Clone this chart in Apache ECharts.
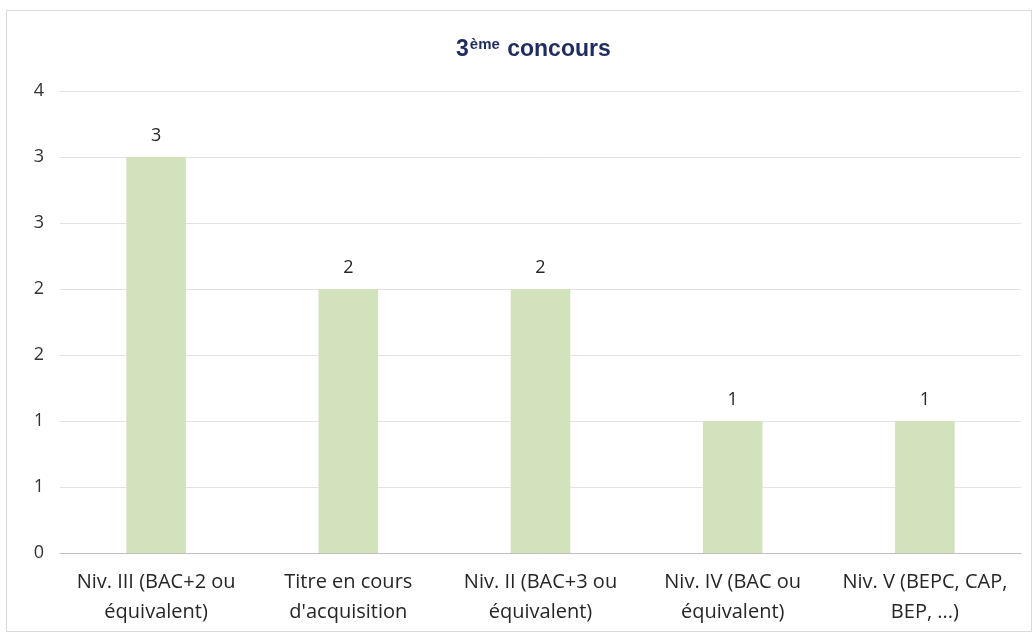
<!DOCTYPE html>
<html>
<head>
<meta charset="utf-8">
<script src="https://cdn.jsdelivr.net/npm/echarts@6/dist/echarts.min.js"></script>
<style>
html,body{margin:0;padding:0;background:#fff;}
#frame{position:absolute;left:6px;top:10px;width:1026px;height:622px;border:1px solid #d9d9d9;box-sizing:border-box;}
#c{position:absolute;left:0;top:0;width:1036px;height:637px;}
</style>
</head>
<body>
<div id="frame"></div>
<div id="c"></div>
<script>
const categories = [
  "Niv. III (BAC+2 ou\néquivalent)",
  "Titre en cours\nd'acquisition",
  "Niv. II (BAC+3 ou\néquivalent)",
  "Niv. IV (BAC ou\néquivalent)",
  "Niv. V (BEPC, CAP,\nBEP, ...)"
];
const values = [3, 2, 2, 1, 1];
const yMin = 0, yMax = 3.5, yStep = 0.5;

const chart = echarts.init(document.getElementById('c'), null, {renderer: 'canvas'});
const font = "'Open Sans', 'Liberation Sans', sans-serif";
const titleFont = "'Liberation Sans', Arial, sans-serif";
chart.setOption({
  animation: false,
  backgroundColor: 'transparent',
  title: {
    text: '{a|3}{s|ème}{a| concours}',
    left: 451,
    top: 28,
    textStyle: {
      rich: {
        a: {fontSize: 23, fontWeight: 'bold', color: '#1f2c5e', fontFamily: titleFont, verticalAlign: 'bottom', lineHeight: 28},
        s: {fontSize: 15, fontWeight: 'bold', color: '#1f2c5e', fontFamily: titleFont, verticalAlign: 'bottom', lineHeight: 28, padding: [0, 1, 9, 1]}
      }
    }
  },
  grid: {left: 60, right: 15, top: 91, bottom: 84, containLabel: false},
  xAxis: {
    type: 'category',
    data: categories,
    axisLine: {show: true, lineStyle: {color: '#bfbfbf', width: 1}},
    axisTick: {show: false},
    axisLabel: {
      color: '#262626', fontSize: 20, fontFamily: font, lineHeight: 30, margin: 14, interval: 0
    }
  },
  yAxis: {
    type: 'value',
    min: yMin, max: yMax, interval: yStep,
    axisLine: {show: false},
    axisTick: {show: false},
    splitLine: {show: true, lineStyle: {color: '#e3e3e3', width: 1}},
    axisLabel: {
      color: '#333333', fontSize: 18, fontFamily: font, margin: 16,
      formatter: v => String(Math.round(v))
    }
  },
  series: [{
    type: 'bar',
    data: values,
    barWidth: '31%',
    itemStyle: {color: '#d1e2bc'},
    label: {
      show: true, position: 'top', distance: 12,
      color: '#262626', fontSize: 18, fontFamily: font
    }
  }]
});
</script>
</body>
</html>
